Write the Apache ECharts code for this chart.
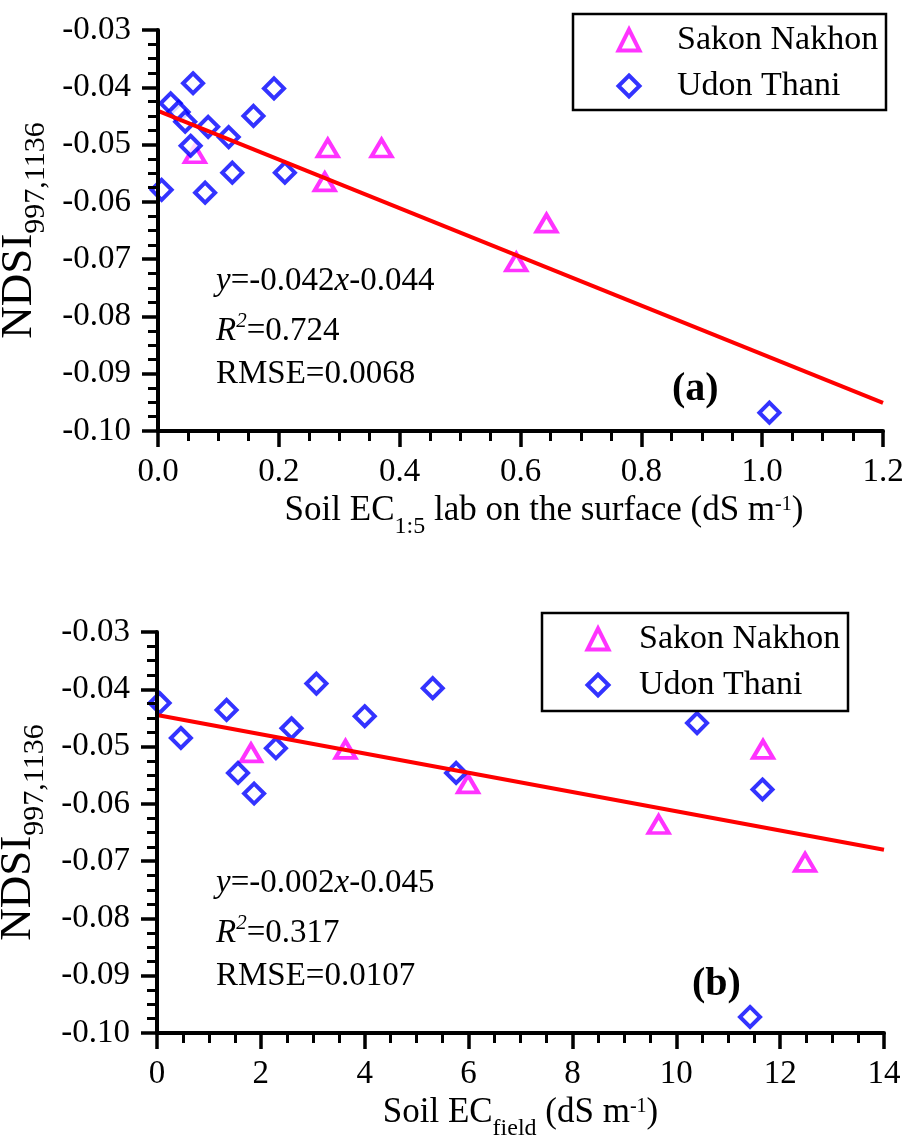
<!DOCTYPE html>
<html><head><meta charset="utf-8">
<script src="https://cdn.jsdelivr.net/npm/echarts@6/dist/echarts.min.js"></script>
<style>html,body{margin:0;padding:0;background:#fff}#c{width:908px;height:1140px}</style>
</head><body><div id="c"></div>
<script>
const FONT = '"Liberation Serif","Times New Roman",serif';

// ---- data, panel (a): Soil EC1:5 lab (dS/m) vs NDSI ----
const sakonA = [[0.061,-0.0516],[0.281,-0.0506],[0.370,-0.0506],[0.276,-0.0565],[0.643,-0.0637],[0.593,-0.0705]];
const udonA = [[0.058,-0.0393],[0.021,-0.0428],[0.034,-0.0443],[0.045,-0.0460],[0.083,-0.0469],[0.117,-0.0487],[0.158,-0.0450],[0.192,-0.0402],[0.054,-0.0502],[0.123,-0.0549],[0.210,-0.0549],[0.006,-0.0579],[0.078,-0.0584],[1.012,-0.0968]];
const fitA = [[0,-0.0441],[1.2,-0.0951]];
// ---- data, panel (b): Soil EC field (dS/m) vs NDSI ----
const sakonB = [[1.81,-0.0511],[3.63,-0.0505],[5.99,-0.0565],[9.66,-0.0636],[11.67,-0.0505],[12.48,-0.0702]];
const udonB = [[0.05,-0.0424],[0.46,-0.0485],[1.34,-0.0436],[1.56,-0.0546],[1.87,-0.0582],[2.29,-0.0503],[2.59,-0.0468],[3.07,-0.0390],[4.0,-0.0447],[5.31,-0.0398],[5.76,-0.0546],[10.4,-0.0459],[11.66,-0.0575],[11.42,-0.0972]];
const fitB = [[0,-0.0445],[14,-0.0680]];

const seriesNames = ['Sakon Nakhon','Udon Thani'];
const yRange = [-0.10, -0.03];
const xRangeA = [0, 1.2];
const xRangeB = [0, 14];
const eqA = ['{iy|y}=-0.042{iy|x}-0.044', '{iy|R}{sp|2}=0.724', 'RMSE=0.0068'];
const eqB = ['{iy|y}=-0.002{iy|x}-0.045', '{iy|R}{sp|2}=0.317', 'RMSE=0.0107'];
const panelTags = ['(a)','(b)'];
const xNames = ['Soil EC{s|1:5} lab on the surface (dS m{p|-1})', 'Soil EC{s|field} (dS m{p|-1})'];
const yName = 'NDSI{s|997,1136}';

const MAG = '#FF00FF', BLUE = '#0000FF', RED = '#FF0000';

function xAxis(gi, range, interval, dec, name, shift) {
  return {
    type: 'value', gridIndex: gi, min: range[0], max: range[1], interval: interval, z: 5,
    axisLine: { show: true, onZero: false, lineStyle: { color: '#000', width: 4 } },
    axisTick: { show: true, length: 16, lineStyle: { color: '#000', width: 3.5 } },
    minorTick: { show: true, splitNumber: 4, length: 10, lineStyle: { color: '#000', width: 3 } },
    splitLine: { show: false }, minorSplitLine: { show: false },
    axisLabel: { fontFamily: FONT, fontSize: 33, color: '#000', margin: 25,
      formatter: v => v.toFixed(dec) },
    name: name, nameLocation: 'middle', nameGap: 52,
    nameTextStyle: {
      fontFamily: FONT, fontSize: 35, color: '#000', padding: [0, 0, 0, shift],
      rich: {
        s: { fontFamily: FONT, fontSize: 24, color: '#000', padding: [32, 0, 0, 0] },
        p: { fontFamily: FONT, fontSize: 20, color: '#000', padding: [0, 0, 12, 0] }
      }
    }
  };
}
function yAxis(gi) {
  return {
    type: 'value', gridIndex: gi, min: yRange[0], max: yRange[1], interval: 0.01, z: 5,
    axisLine: { show: true, onZero: false, lineStyle: { color: '#000', width: 4 } },
    axisTick: { show: true, length: 16, lineStyle: { color: '#000', width: 3.5 } },
    minorTick: { show: true, splitNumber: 4, length: 10, lineStyle: { color: '#000', width: 3 } },
    splitLine: { show: false }, minorSplitLine: { show: false },
    axisLabel: { fontFamily: FONT, fontSize: 33, color: '#000', margin: 27,
      formatter: v => v.toFixed(2) },
    name: yName, nameLocation: 'middle', nameRotate: 90, nameGap: 96,
    nameTextStyle: {
      fontFamily: FONT, fontSize: 45, color: '#000',
      rich: { s: { fontFamily: FONT, fontSize: 30, color: '#000', padding: [34, 0, 0, 0] } }
    }
  };
}
function scatter(name, data, gi, sym, size, color) {
  return {
    type: 'scatter', name: name, data: data, xAxisIndex: gi, yAxisIndex: gi,
    symbol: sym, symbolSize: size, z: 3, clip: false,
    itemStyle: { color: '#fff', borderColor: color, borderWidth: 4 }
  };
}
function fit(data, gi) {
  return {
    type: 'line', name: 'fit', data: data, xAxisIndex: gi, yAxisIndex: gi,
    showSymbol: false, symbol: 'none', z: 4, silent: true,
    lineStyle: { color: RED, width: 4 }
  };
}
function legend(left, top, padL, textPad) {
  return {
    left: left, top: top, orient: 'vertical', data: seriesNames, selectedMode: false,
    itemWidth: 21, itemHeight: 21, itemGap: 6, padding: [6, 8, 4, padL],
    symbolKeepAspect: true,
    itemStyle: { borderWidth: 4 },
    textStyle: { fontFamily: FONT, fontSize: 34, color: '#000', lineHeight: 40, padding: [0, 0, 0, textPad] }
  };
}
function eqTexts(lines, x, ys) {
  return lines.map((t, i) => ({
    type: 'text', x: x, y: ys[i], z: 10,
    style: {
      text: t, fontFamily: FONT, fontSize: 33, fill: '#000', align: 'left', verticalAlign: 'middle',
      rich: {
        iy: { fontFamily: FONT, fontSize: 33, fontStyle: 'italic', fill: '#000' },
        sp: { fontFamily: FONT, fontSize: 21, fontStyle: 'italic', fill: '#000', padding: [0, 0, 20, 0] }
      }
    }
  }));
}

const chart = echarts.init(document.getElementById('c'), null, { renderer: 'canvas' });
chart.setOption({
  animation: false,
  backgroundColor: '#fff',
  grid: [
    { left: 158, top: 30, width: 725, height: 401, containLabel: false, outerBoundsMode: 'none' },
    { left: 157, top: 632, width: 727, height: 401, containLabel: false, outerBoundsMode: 'none' }
  ],
  xAxis: [xAxis(0, xRangeA, 0.2, 1, xNames[0], 47), xAxis(1, xRangeB, 2, 0, xNames[1], 0)],
  yAxis: [yAxis(0), yAxis(1)],
  legend: [legend(573, 14, 43.5, 32.5), legend(542, 613, 43.5, 25.5)],
  series: [
    scatter(seriesNames[0], sakonA, 0, 'triangle', [20, 17], MAG),
    scatter(seriesNames[1], udonA, 0, 'diamond', [20, 20], BLUE),
    fit(fitA, 0),
    scatter(seriesNames[0], sakonB, 1, 'triangle', [20, 17], MAG),
    scatter(seriesNames[1], udonB, 1, 'diamond', [20, 20], BLUE),
    fit(fitB, 1)
  ],
  graphic: [
    { type: 'rect', shape: { x: 573, y: 14, width: 313, height: 96 }, style: { fill: 'none', stroke: '#000', lineWidth: 2.5 }, z: 10 },
    { type: 'rect', shape: { x: 542, y: 613, width: 306, height: 98 }, style: { fill: 'none', stroke: '#000', lineWidth: 2.5 }, z: 10 },
    ...eqTexts(eqA, 216, [281, 331, 374]),
    ...eqTexts(eqB, 216, [883, 933, 976]),
    { type: 'text', x: 672, y: 390, z: 10, style: { text: panelTags[0], fontFamily: FONT, fontSize: 40, fontWeight: 'bold', fill: '#000', verticalAlign: 'middle' } },
    { type: 'text', x: 692, y: 985, z: 10, style: { text: panelTags[1], fontFamily: FONT, fontSize: 40, fontWeight: 'bold', fill: '#000', verticalAlign: 'middle' } }
  ]
});
</script></body></html>
